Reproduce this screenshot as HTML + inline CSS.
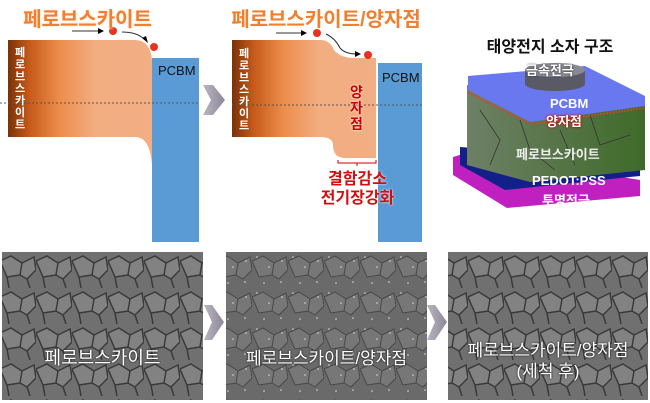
<!DOCTYPE html>
<html><head><meta charset="utf-8"><style>
body{margin:0;width:650px;height:403px;background:#fff;overflow:hidden;position:relative;font-family:"Liberation Sans","Noto Sans CJK KR",sans-serif}
.a{position:absolute}
</style></head><body>
<svg class="a" style="left:0;top:0" width="650" height="403" viewBox="0 0 650 403">
<defs>
<linearGradient id="og" x1="0" x2="1"><stop offset="0" stop-color="#7a3208"/><stop offset="0.15" stop-color="#c65a1a"/><stop offset="0.35" stop-color="#ec8c4a"/><stop offset="0.6" stop-color="#f2ad80"/><stop offset="1" stop-color="#f2ae84"/></linearGradient>
<linearGradient id="ag" x1="0" x2="1"><stop offset="0" stop-color="#b8b4c0"/><stop offset="1" stop-color="#8c8896"/></linearGradient>
<linearGradient id="gg" x1="0" x2="1"><stop offset="0" stop-color="#6e8066"/><stop offset="1" stop-color="#3f6a2a"/></linearGradient>
<pattern id="sem" width="36" height="36" patternUnits="userSpaceOnUse"><rect width="36" height="36" fill="#707070"/><path d="M0 9 L11 4 L22 11 L20 23 L7 25 Z M22 11 L34 5 L36 18 L27 27 L20 23 M7 25 L9 36 M27 27 L30 36" stroke="#3a3a3a" stroke-width="1.5" fill="#828282"/></pattern>
<pattern id="sem2" width="36" height="36" patternUnits="userSpaceOnUse"><rect width="36" height="36" fill="#6a6a6a"/><path d="M0 9 L11 4 L22 11 L20 23 L7 25 Z M22 11 L34 5 L36 18 L27 27 L20 23" stroke="#484848" stroke-width="1" fill="#777"/><circle cx="5" cy="5" r="0.8" fill="#ddd"/><circle cx="17" cy="15" r="0.8" fill="#ddd"/><circle cx="29" cy="30" r="0.8" fill="#ddd"/><circle cx="12" cy="31" r="0.8" fill="#ddd"/><circle cx="30" cy="9" r="0.8" fill="#ddd"/></pattern>
</defs>
<path d="M8 40 H135 Q150 40 152 60 V165 Q150 137 135 137 H8 Z" fill="url(#og)"/>
<rect x="152" y="58" width="47" height="184" fill="#5b9bd5"/>
<line x1="0" y1="103" x2="200" y2="103" stroke="#555" stroke-dasharray="2,2"/>
<line x1="72" y1="31" x2="100" y2="31" stroke="#333"/><path d="M98 28 L104 31 L98 34Z" fill="#000"/>
<circle cx="113" cy="31" r="4" fill="#e8321e"/>
<path d="M122 32 Q138 32 145 40" stroke="#333" fill="none"/><path d="M142 38 L148 43 L146 36Z" fill="#000"/>
<circle cx="154" cy="47" r="4" fill="#e8321e"/>
<path d="M203 85 L213 85 L225 100 L213 115 L203 115 L211 100Z" fill="url(#ag)"/>
<path d="M232 40 H320 Q330 40 334 50 Q340 58 355 58 H376 V158 H345 Q333 158 333 145 Q333 137 320 137 H232 Z" fill="url(#og)"/>
<rect x="378" y="63" width="44" height="179" fill="#5b9bd5"/>
<line x1="232" y1="105" x2="422" y2="105" stroke="#555" stroke-dasharray="2,2"/>
<line x1="276" y1="33" x2="303" y2="33" stroke="#333"/><path d="M301 30 L307 33 L301 36Z" fill="#000"/>
<circle cx="317" cy="33" r="4" fill="#e8321e"/>
<path d="M326 34 Q335 38 340 48 Q345 54 357 54" stroke="#333" fill="none"/><path d="M355 51 L361 54 L355 57Z" fill="#000"/>
<circle cx="368" cy="55" r="4" fill="#e8321e"/>
<path d="M338 160 V163 H376 V160 M357 163 V166" stroke="#c00" fill="none"/>
<path d="M453 157 L470 152 L640 180 L640 196 L507 208 L453 175Z" fill="#c020c0"/>
<path d="M460 147 L640 160 L640 176 L505 190 L460 165Z" fill="#14208a"/>
<path d="M467 85 L645 100 L645 170 L530 182 L467 165Z" fill="url(#gg)"/>
<path d="M480 110 L500 140 L490 165 M520 120 L530 150 L555 170 M590 115 L600 145 L630 135 M560 130 L575 165" stroke="#333" fill="none" stroke-width="0.8"/>
<path d="M468 76 L585 66 L645 96 L645 106 L530 122 L468 90Z" fill="#6a78f0"/>
<path d="M468 92 L530 124 L645 108" stroke="#d42" stroke-width="2" stroke-dasharray="1.5,1.5" fill="none"/>
<rect x="525" y="70" width="60" height="14" fill="#5a5a66"/>
<ellipse cx="555" cy="84" rx="30" ry="7" fill="#5a5a66"/>
<ellipse cx="555" cy="70" rx="30" ry="7" fill="#8a8a96"/>
<rect x="2" y="252" width="201" height="148" fill="url(#sem)"/>
<rect x="226" y="252" width="201" height="148" fill="url(#sem2)"/>
<rect x="448" y="252" width="200" height="148" fill="url(#sem)"/>
<path d="M204 305 L212 305 L224 322 L212 340 L204 340 L212 322Z" fill="url(#ag)"/>
<path d="M427 305 L435 305 L447 322 L435 340 L427 340 L435 322Z" fill="url(#ag)"/>
</svg>
<div class="a" style="left:0;top:3px;width:175px;text-align:center;font-size:20px;font-weight:bold;color:#f08030;text-shadow:0 0 3px #fff,0 0 2px #f7c7a0">페로브스카이트</div>
<div class="a" style="left:226px;top:3px;width:200px;text-align:center;font-size:20px;font-weight:bold;color:#f08030;text-shadow:0 0 3px #fff">페로브스카이트/양자점</div>
<div class="a" style="left:460px;top:33px;width:180px;text-align:center;font-size:16px;font-weight:bold;color:#111">태양전지 소자 구조</div>
<div class="a" style="left:12px;top:47px;width:16px;font-size:11px;font-weight:bold;color:#fff;line-height:12px;text-align:center">페로브스카이트</div>
<div class="a" style="left:236px;top:48px;width:16px;font-size:11px;font-weight:bold;color:#fff;line-height:12px;text-align:center">페로브스카이트</div>
<div class="a" style="left:158px;top:63px;font-size:13px;color:#111">PCBM</div>
<div class="a" style="left:382px;top:70px;font-size:13px;color:#111">PCBM</div>
<div class="a" style="left:350px;top:84px;width:16px;font-size:14px;font-weight:bold;color:#c00;line-height:16px;text-shadow:0 0 2px #fff">양자점</div>
<div class="a" style="left:300px;top:170px;width:115px;text-align:center;font-size:16px;font-weight:bold;color:#d01010;line-height:19px;text-shadow:0 0 2px #fff">결함감소<br>전기장강화</div>
<div class="a" style="left:460px;top:60px;width:190px;font-size:13px;color:#fff;font-weight:bold">
<div class="a" style="left:66px;top:0;text-shadow:0 0 2px #333">금속전극</div>
<div class="a" style="left:90px;top:36px">PCBM</div>
<div class="a" style="left:86px;top:51px;color:#fff;text-shadow:0 0 2px #c00,0 0 2px #c00">양자점</div>
<div class="a" style="left:56px;top:84px;color:#eee">페로브스카이트</div>
<div class="a" style="left:72px;top:113px">PEDOT:PSS</div>
<div class="a" style="left:82px;top:130px">투명전극</div>
</div>
<div class="a" style="left:2px;top:344px;width:201px;text-align:center;font-size:18px;color:#fff;text-shadow:0 0 2px #000">페로브스카이트</div>
<div class="a" style="left:226px;top:344px;width:201px;text-align:center;font-size:17px;color:#fff;text-shadow:0 0 2px #000">페로브스카이트/양자점</div>
<div class="a" style="left:448px;top:340px;width:200px;text-align:center;font-size:17px;color:#fff;line-height:21px;text-shadow:0 0 2px #000">페로브스카이트/양자점<br>(세척 후)</div>
</body></html>
